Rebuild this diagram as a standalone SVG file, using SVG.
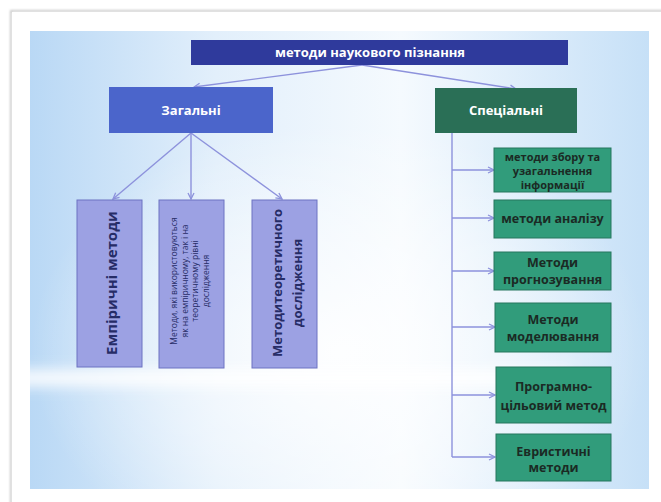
<svg xmlns="http://www.w3.org/2000/svg" width="661" height="502" viewBox="0 0 661 502">
  <defs>
    <linearGradient id="bgH" x1="0" y1="0" x2="1" y2="0">
      <stop offset="0" stop-color="#b9d8f5"/>
      <stop offset="0.3" stop-color="#e2effb"/>
      <stop offset="0.6" stop-color="#f5fafe"/>
      <stop offset="1" stop-color="#c6e0f7"/>
    </linearGradient>
    <radialGradient id="bgR" cx="0.5" cy="0.7" r="0.5">
      <stop offset="0" stop-color="#ffffff" stop-opacity="0.9"/>
      <stop offset="0.6" stop-color="#ffffff" stop-opacity="0.4"/>
      <stop offset="1" stop-color="#ffffff" stop-opacity="0"/>
    </radialGradient>
    <clipPath id="bgClip">
      <rect x="30" y="31" width="619" height="458"/>
    </clipPath>
    <filter id="blurBand" x="-20%" y="-100%" width="140%" height="300%">
      <feGaussianBlur stdDeviation="7"/>
    </filter>
    <marker id="arr" viewBox="0 0 8 8" refX="7" refY="4" markerWidth="8" markerHeight="8" markerUnits="userSpaceOnUse" orient="auto">
      <path d="M1,1 L7,4 L1,7" fill="none" stroke="#8d92dc" stroke-width="1.3"/>
    </marker>
    <filter id="sh" x="-5%" y="-5%" width="110%" height="110%">
      <feGaussianBlur stdDeviation="1.2"/>
    </filter>
  </defs>
  <style>
    text { font-family: "Open Sans", "Noto Sans", "DejaVu Sans", sans-serif; }
    .top { fill: #2f3a9c; }
    .gen { fill: #4b65cb; }
    .spec { fill: #2a6f56; }
    .lav { fill: #9ca1e3; stroke: #6d73c2; stroke-width: 1; }
    .grn { fill: #319c7b; stroke: #27775e; stroke-width: 1; }
    .wt { fill: #ffffff; font-weight: bold; font-size: 13px; text-anchor: middle; }
    .gt { fill: #1b2a24; font-weight: bold; font-size: 12.5px; text-anchor: middle; }
    .gs { fill: #1b2a24; font-weight: bold; font-size: 11px; text-anchor: middle; }
    .lt { fill: #262c66; font-weight: bold; text-anchor: middle; }
    .st { fill: #262c66; font-size: 8.5px; text-anchor: middle; }
    .conn { stroke: #8d92dc; stroke-width: 1.4; fill: none; }
  </style>

  <!-- page / card -->
  <rect x="0" y="0" width="661" height="502" fill="#ffffff"/>
  <rect x="11" y="11" width="660" height="500" fill="#ffffff" stroke="#c9c9c9" stroke-width="2" filter="url(#sh)"/>
  <rect x="12" y="12" width="660" height="500" fill="#ffffff"/>

  <!-- background -->
  <rect x="30" y="31" width="619" height="458" fill="url(#bgH)"/>
  <rect x="30" y="31" width="619" height="458" fill="url(#bgR)"/>
  <g clip-path="url(#bgClip)">
    <rect x="10" y="370" width="560" height="16" fill="#ffffff" opacity="0.95" filter="url(#blurBand)"/>
  </g>

  <g id="connectors">
    <line class="conn" x1="362" y1="65" x2="194" y2="87" marker-end="url(#arr)"/>
    <line class="conn" x1="362" y1="65" x2="516" y2="89" marker-end="url(#arr)"/>
    <line class="conn" x1="191" y1="133" x2="113" y2="199" marker-end="url(#arr)"/>
    <line class="conn" x1="191" y1="133" x2="191" y2="199" marker-end="url(#arr)"/>
    <line class="conn" x1="191" y1="133" x2="282" y2="199" marker-end="url(#arr)"/>
    <line class="conn" x1="452" y1="133" x2="452" y2="457"/>
    <line class="conn" x1="452" y1="170" x2="494" y2="170" marker-end="url(#arr)"/>
    <line class="conn" x1="452" y1="218" x2="494" y2="218" marker-end="url(#arr)"/>
    <line class="conn" x1="452" y1="271" x2="494" y2="271" marker-end="url(#arr)"/>
    <line class="conn" x1="452" y1="327" x2="495" y2="327" marker-end="url(#arr)"/>
    <line class="conn" x1="452" y1="395" x2="495" y2="395" marker-end="url(#arr)"/>
    <line class="conn" x1="452" y1="457" x2="495" y2="457" marker-end="url(#arr)"/>
  </g>

  <g id="root">
    <rect class="top" x="191" y="40" width="377" height="25"/>
    <text class="wt" x="370" y="57">методи наукового пізнання</text>
  </g>
  <g id="general">
    <rect class="gen" x="109" y="87" width="164" height="46"/>
    <text class="wt" x="191" y="115">Загальні</text>
  </g>
  <g id="special">
    <rect class="spec" x="435" y="88" width="142" height="45"/>
    <text class="wt" x="506" y="115">Спеціальні</text>
  </g>

  <g id="empirical">
    <rect class="lav" x="77" y="200" width="65" height="167"/>
    <text class="lt" font-size="15" transform="translate(110.5,283) rotate(-90)" x="0" y="6">Емпіричні методи</text>
  </g>
  <g id="both-levels">
    <rect class="lav" x="159" y="200" width="65" height="168"/>
    <g transform="translate(191.5,281) rotate(-90)">
      <text class="st" x="0" y="-14.5">Методи, які використовуються</text>
      <text class="st" x="0" y="-4">як на емпіричному, так і на</text>
      <text class="st" x="0" y="6.5">теоретичному рівні</text>
      <text class="st" x="0" y="17">дослідження</text>
    </g>
  </g>
  <g id="theoretical">
    <rect class="lav" x="252" y="200" width="65" height="168"/>
    <g transform="translate(285,283) rotate(-90)">
      <text class="lt" font-size="13" x="0" y="-3">Методитеоретичного</text>
      <text class="lt" font-size="13" x="0" y="17">дослідження</text>
    </g>
  </g>

  <g id="collect">
    <rect class="grn" x="494" y="148" width="117" height="44"/>
    <text class="gs" x="552.5" y="161">методи збору та</text>
    <text class="gs" x="552.5" y="175">узагальнення</text>
    <text class="gs" x="552.5" y="189">інформації</text>
  </g>
  <g id="analysis">
    <rect class="grn" x="494" y="200" width="117" height="38"/>
    <text class="gt" x="552.5" y="223">методи аналізу</text>
  </g>
  <g id="forecast">
    <rect class="grn" x="494" y="252" width="117" height="38"/>
    <text class="gt" x="552.5" y="267">Методи</text>
    <text class="gt" x="552.5" y="284">прогнозування</text>
  </g>
  <g id="modeling">
    <rect class="grn" x="495" y="303" width="116" height="49"/>
    <text class="gt" x="553" y="324">Методи</text>
    <text class="gt" x="553" y="341">моделювання</text>
  </g>
  <g id="program">
    <rect class="grn" x="496" y="367" width="115" height="56"/>
    <text class="gt" x="553.5" y="391">Програмно-</text>
    <text class="gt" x="553.5" y="410">цільовий метод</text>
  </g>
  <g id="heuristic">
    <rect class="grn" x="496" y="434" width="115" height="47"/>
    <text class="gt" x="553.5" y="456">Евристичні</text>
    <text class="gt" x="553.5" y="472">методи</text>
  </g>
</svg>
